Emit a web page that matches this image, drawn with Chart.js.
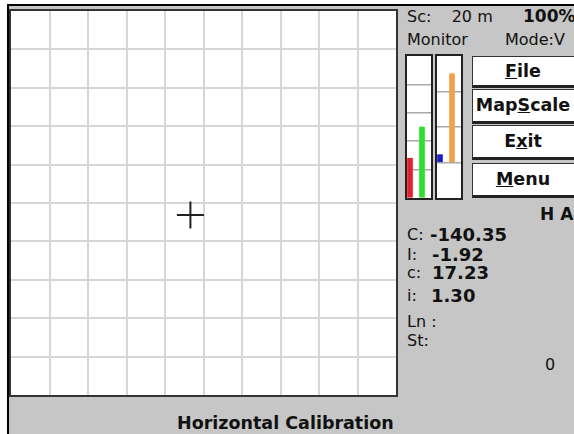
<!DOCTYPE html>
<html>
<head>
<meta charset="utf-8">
<script src="https://cdn.jsdelivr.net/npm/chart.js@4"></script>
<style>
  body { margin: 0; background: #fff; width: 574px; height: 434px; overflow: hidden; position: relative;
         font-family: "DejaVu Sans", sans-serif; color: #111; }
  #screen { position: absolute; left: 7px; top: 4px; width: 570px; height: 432px; background: #c6c6c6;
            border-left: 2px solid #000; border-top: 2px solid #000; }
  #frame { position: absolute; left: 9px; top: 9px; width: 385px; height: 384px; border: 2px solid #333; background: #fff; }
  #frame canvas { position: absolute; left: 0; top: 0; }
  .meter { position: absolute; top: 54px; width: 24px; height: 142px; border: 2px solid #222; background: #fff; }
  .btn { position: absolute; left: 472px; width: 110px; background: #fff; border: 1px solid #333; border-bottom: 3px solid #222;
         font-weight: bold; font-size: 17.5px; text-align: center; box-sizing: border-box; padding-right: 8px; }
  .t { position: absolute; white-space: pre; font-size: 16px; line-height: 16px; }
  .v { position: absolute; white-space: pre; font-size: 18px; line-height: 18px; font-weight: bold; }
</style>
</head>
<body>
<div id="screen"></div>
<div id="frame"><canvas id="grid" width="385" height="384"></canvas></div>
<div class="meter" style="left:405px"><canvas id="m1" width="24" height="142"></canvas></div>
<div class="meter" style="left:435px"><canvas id="m2" width="24" height="142"></canvas></div>

<div class="btn" style="top:56px;height:32px;line-height:28px"><u>F</u>ile</div>
<div class="btn" style="top:89px;height:35px;line-height:31px">Map<u>S</u>cale</div>
<div class="btn" style="top:125px;height:35px;line-height:31px">E<u>x</u>it</div>
<div class="btn" style="top:163px;height:35px;line-height:31px"><u>M</u>enu</div>

<div class="t" style="left:407px;top:9px">Sc:    20 m</div>
<div class="v" style="left:523px;top:7px;font-size:17px">100%</div>
<div class="t" style="left:407px;top:32px">Monitor</div>
<div class="t" style="left:505px;top:32px">Mode:V</div>
<div class="v" style="left:540px;top:205px;font-size:17px">H A</div>
<div class="t" style="left:407px;top:227px">C:</div>
<div class="v" style="left:430px;top:226px">-140.35</div>
<div class="t" style="left:407px;top:247px">I:</div>
<div class="v" style="left:432px;top:246px">-1.92</div>
<div class="t" style="left:407px;top:265px">c:</div>
<div class="v" style="left:432px;top:264px">17.23</div>
<div class="t" style="left:407px;top:288px">i:</div>
<div class="v" style="left:431px;top:287px">1.30</div>
<div class="t" style="left:407px;top:314px">Ln :</div>
<div class="t" style="left:407px;top:333px">St:</div>
<div class="t" style="left:545px;top:357px">0</div>
<div class="v" style="left:177px;top:414px;font-size:17.5px">Horizontal Calibration</div>

<script>
// cursor position on the calibration grid
const cursorX = [-0.34];
const cursorY = [-0.31];
const gridMin = -5, gridMax = 5;

// level meters
const meterSlots = ['1', '2', '3', '4'];
const meter1 = [1.4, null, 2.5, null];
const meter1Colors = ['#e4202c', null, '#2ee02e', null];
const meter2 = [0.22, null, 2.5, null];
const meter2Colors = ['#1c1ccc', null, '#f2a04a', null];

const hideEdge = (lo, hi, col) => c => (c.tick && (c.tick.value === lo || c.tick.value === hi)) ? 'rgba(0,0,0,0)' : col;

new Chart(document.getElementById('grid'), {
  type: 'scatter',
  data: {
    datasets: [{
      data: cursorX.map((x, i) => ({ x: x, y: cursorY[i] })),
      pointStyle: 'cross',
      radius: 13.5,
      borderColor: '#222',
      borderWidth: 2
    }]
  },
  options: {
    responsive: false,
    animation: false,
    layout: { padding: 0, autoPadding: false },
    plugins: { legend: { display: false }, tooltip: { enabled: false } },
    scales: {
      x: { type: 'linear', min: gridMin, max: gridMax, ticks: { display: false, stepSize: 1 },
           grid: { drawTicks: false, lineWidth: 2, color: hideEdge(gridMin, gridMax, '#d6d6d6') },
           border: { display: false } },
      y: { type: 'linear', min: gridMin, max: gridMax, ticks: { display: false, stepSize: 1 },
           grid: { drawTicks: false, lineWidth: 2, color: hideEdge(gridMin, gridMax, '#d6d6d6') },
           border: { display: false } }
    }
  }
});

function meter(id, values, colors, min, max) {
  new Chart(document.getElementById(id), {
    type: 'bar',
    data: {
      labels: meterSlots,
      datasets: [{ data: values, backgroundColor: colors, barThickness: 5 }]
    },
    options: {
      responsive: false,
      animation: false,
      layout: { padding: 0, autoPadding: false },
      plugins: { legend: { display: false }, tooltip: { enabled: false } },
      scales: {
        x: { ticks: { display: false }, grid: { display: false, drawTicks: false }, border: { display: false } },
        y: { min: min, max: max, ticks: { display: false, stepSize: 1 },
             grid: { drawTicks: false, lineWidth: 1.5, color: hideEdge(min, max, '#a8a8a8') },
             border: { display: false } }
      }
    }
  });
}
meter('m1', meter1, meter1Colors, 0, 5);
meter('m2', meter2, meter2Colors, -1, 3);
</script>
</body>
</html>
